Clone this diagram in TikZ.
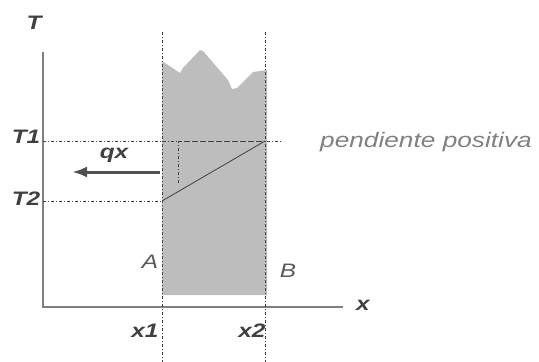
\documentclass[tikz,border=0pt]{standalone}
\usepackage{fontspec}
\setmainfont{Liberation Sans}[FakeStretch=1.25]
\usetikzlibrary{arrows.meta}
\definecolor{PGDark}{HTML}{404040}
\definecolor{PGMid}{HTML}{5A5A5A}
\definecolor{PGSoft}{HTML}{808080}
\definecolor{PGShade}{HTML}{BDBDBD}
\definecolor{PGArrow}{HTML}{505050}
\begin{document}
\begin{tikzpicture}[x=1pt,y=-1pt,>=Latex,
 axislbl/.style={font=\fontsize{19.5}{21}\selectfont\bfseries\itshape,text=PGDark,inner sep=0pt,anchor=base},
 ptlbl/.style={font=\fontsize{19.5}{21}\selectfont\itshape,text=PGMid,inner sep=0pt,anchor=base},
 guide/.style={draw=PGDark,line width=0.6pt,dash pattern=on 3pt off 2pt on 1pt off 2pt},
 axisline/.style={draw=PGSoft,line width=1.2pt}]
\useasboundingbox (0,0) rectangle (539,362);
\fill[PGShade] (162,61) -- (180,73) -- (183,68) -- (200,50) -- (203,51) -- (228,80) -- (232,89) -- (237,88) -- (253,72) -- (267,70) -- (267,295) -- (162,295) -- cycle;
\coordinate (o) at (43,307);
\coordinate (ytop) at (43,52);
\coordinate (xend) at (343,307);
\coordinate (x1top) at (162,32);
\coordinate (x1bot) at (162,362);
\coordinate (x2top) at (265,32);
\coordinate (x2bot) at (265,362);
\coordinate (t1a) at (43,141);
\coordinate (t1b) at (282,141);
\coordinate (t2a) at (43,201);
\coordinate (pa) at (162,201);
\coordinate (pb) at (265,141);
\coordinate (ca) at (178,141);
\coordinate (cb) at (178,183);
\coordinate (qa) at (160,172);
\coordinate (qb) at (72,172);
\draw[axisline] (ytop) -- (o) -- (xend);
\draw[guide] (x1top) -- (x1bot);
\draw[guide] (x2top) -- (x2bot);
\draw[guide] (t1a) -- (t1b);
\draw[guide] (t2a) -- (pa);
\draw[guide] (cb) -- (ca) -- (pb);
\draw[PGDark,line width=0.8pt] (pa) -- (pb);
\draw[->,PGArrow,line width=3pt,arrows={-Latex[length=15pt,width=11pt]}] (qa) -- (qb);
\node[axislbl] (lt) at (34,29) {T};
\node[axislbl] (lt1) at (26,143) {T1};
\node[axislbl] (lt2) at (26,205) {T2};
\node[axislbl] (lq) at (114,158) {qx};
\node[axislbl] (lx) at (363,310) {x};
\node[axislbl] (lx1) at (145,337) {x1};
\node[axislbl] (lx2) at (252,337) {x2};
\node[ptlbl] (la) at (150,268) {A};
\node[ptlbl] (lb) at (288,277) {B};
\node[font=\fontsize{21}{24}\selectfont\itshape,text=PGSoft,inner sep=0pt,anchor=base] (lp) at (426,147) {pendiente positiva};
\end{tikzpicture}
\end{document}
